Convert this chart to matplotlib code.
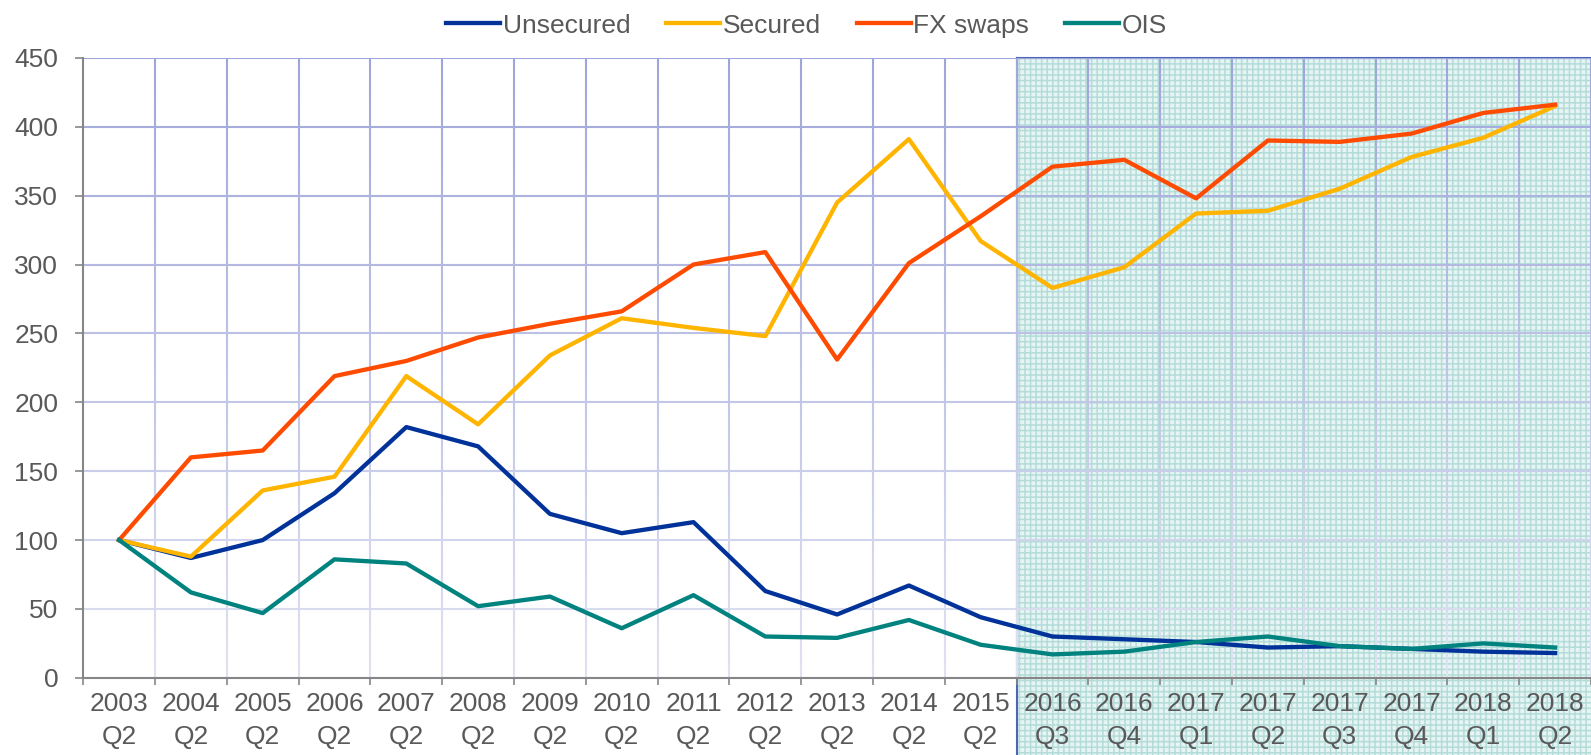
import numpy as np
import matplotlib
matplotlib.use('Agg')
import matplotlib.pyplot as plt
from matplotlib.patches import Rectangle
from matplotlib.collections import LineCollection
from matplotlib.colors import to_rgb
from matplotlib.transforms import blended_transform_factory

plt.rcParams['font.family'] = ['Liberation Sans', 'DejaVu Sans']
plt.rcParams['hatch.linewidth'] = 1.1

# Categorie asse x
periods = ['2003\nQ2', '2004\nQ2', '2005\nQ2', '2006\nQ2', '2007\nQ2', '2008\nQ2',
           '2009\nQ2', '2010\nQ2', '2011\nQ2', '2012\nQ2', '2013\nQ2', '2014\nQ2',
           '2015\nQ2', '2016\nQ3', '2016\nQ4', '2017\nQ1', '2017\nQ2', '2017\nQ3',
           '2017\nQ4', '2018\nQ1', '2018\nQ2']

# Serie (indice, 2003 Q2 = 100)
unsecured = [100, 87, 100, 134, 182, 168, 119, 105, 113, 63, 46, 67, 44,
             30, 28, 26, 22, 23, 21, 19, 18]
secured = [100, 88, 136, 146, 219, 184, 234, 261, 254, 248, 345, 391, 317,
           283, 298, 337, 339, 355, 378, 392, 415]
fx_swaps = [100, 160, 165, 219, 230, 247, 257, 266, 300, 309, 231, 301, 335,
            371, 376, 348, 390, 389, 395, 410, 416]
ois = [100, 62, 47, 86, 83, 52, 59, 36, 60, 30, 29, 42, 24,
       17, 19, 26, 30, 23, 21, 25, 22]

yticks = np.arange(0, 451, 50)
shade_start = 13  # primo periodo trimestrale

text_col = '#595959'
grid_top = np.array(to_rgb('#9fa5da'))
grid_bot = np.array(to_rgb('#e0e2f2'))
FS = 19


def grid_color(y):
    # sfumatura della griglia: piu' scura in alto, chiara in basso
    t = y / 450.0
    return tuple(grid_bot + (grid_top - grid_bot) * t)


fig = plt.figure(figsize=(15.91, 7.55), dpi=100)
ax = fig.add_axes([0.0523, 0.1022, 0.9477, 0.8212])

n = len(periods)
x = np.arange(n)

# Area ombreggiata (periodo trimestrale)
trans = blended_transform_factory(ax.transData, ax.transAxes)
ax.add_patch(Rectangle((shade_start - 0.5, -0.2), n - shade_start + 1, 1.2,
                       transform=trans, facecolor='#e6f4f3', edgecolor='#b4dcd9',
                       hatch='+++', linewidth=0, clip_on=False, zorder=0))
ax.plot([shade_start - 0.5, shade_start - 0.5], [-0.2, 1.0], transform=trans,
        color='#4a66b8', lw=1.5, clip_on=False, zorder=1)
ax.plot([shade_start - 0.5, n + 0.5], [1.0, 1.0], transform=trans,
        color='#4a66b8', lw=1.5, clip_on=False, zorder=1)

# Griglia con sfumatura
for yv in yticks[1:]:
    ax.axhline(yv, color=grid_color(yv), lw=1.5, zorder=1)
ys = np.linspace(0, 450, 91)
segs, cols = [], []
for b in np.arange(0.5, n, 1.0):
    for y0, y1 in zip(ys[:-1], ys[1:]):
        segs.append([(b, y0), (b, y1)])
        cols.append(grid_color((y0 + y1) / 2))
ax.add_collection(LineCollection(segs, colors=cols, linewidths=1.5, zorder=1,
                                 capstyle='butt'))

ax.plot(x, unsecured, color='#003299', lw=3.1, label='Unsecured', zorder=3)
ax.plot(x, secured, color='#ffb400', lw=3.1, label='Secured', zorder=3)
ax.plot(x, fx_swaps, color='#ff4b00', lw=3.1, label='FX swaps', zorder=3)
ax.plot(x, ois, color='#00827f', lw=3.1, label='OIS', zorder=3)

ax.set_xlim(-0.5, n - 0.5)
ax.set_ylim(0, 450)
ax.set_yticks(yticks)
ax.set_xticks(np.arange(-0.5, n, 1.0))
ax.set_xticklabels([])
ax.set_xticks(x, minor=True)
ax.set_xticklabels(periods, minor=True, linespacing=1.5)
ax.tick_params(axis='x', which='major', length=5, color='#868686', width=1.2)
ax.tick_params(axis='x', which='minor', length=0, pad=10,
               labelsize=FS, labelcolor=text_col)
ax.tick_params(axis='y', length=6, color='#868686', width=1.2, pad=12,
               labelsize=FS, labelcolor=text_col)

for s in ['top', 'right']:
    ax.spines[s].set_visible(False)
for s in ['left', 'bottom']:
    ax.spines[s].set_color('#868686')
    ax.spines[s].set_linewidth(1.5)
    ax.spines[s].set_zorder(4)

leg = fig.legend(loc='center', bbox_to_anchor=(0.507, 0.966), ncol=4,
                 frameon=False, fontsize=FS, handlelength=2.05,
                 handletextpad=0.1, columnspacing=1.35, labelcolor=text_col)

fig.savefig('out.png', dpi=100)
